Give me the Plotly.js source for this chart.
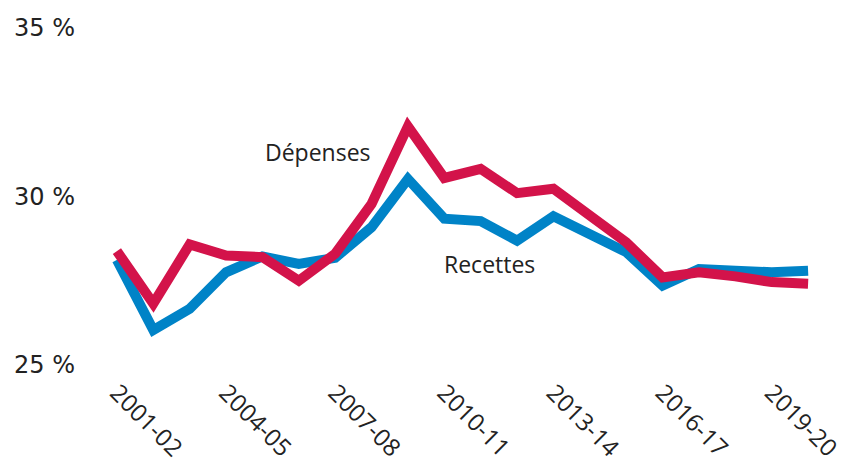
<!DOCTYPE html>
<html>
<head>
<meta charset="utf-8">
<script src="https://cdn.plot.ly/plotly-3.0.1.min.js"></script>
<style>html,body{margin:0;padding:0;background:#fff;}#chart{width:847px;height:466px;}</style>
</head>
<body>
<div id="chart"></div>
<script>
const years = ["2001-02","2002-03","2003-04","2004-05","2005-06","2006-07","2007-08","2008-09","2009-10","2010-11","2011-12","2012-13","2013-14","2014-15","2015-16","2016-17","2017-18","2018-19","2019-20","2020-21"];
const depenses = [28.38,26.82,28.58,28.25,28.2,27.5,28.3,29.78,32.08,30.55,30.82,30.1,30.23,29.39,28.64,27.6,27.75,27.63,27.46,27.41];
const recettes = [28.12,26.04,26.67,27.75,28.22,28.0,28.18,29.09,30.52,29.34,29.27,28.69,29.41,28.91,28.35,27.36,27.85,27.8,27.75,27.8];
const xTicks = ["2001-02","2004-05","2007-08","2010-11","2013-14","2016-17","2019-20"];
const yTicks = [25,30,35];
const yTickText = ["25 %","30 %","35 %"];

const traces = [
  {x: years, y: recettes, type: "scatter", mode: "lines", name: "Recettes",
   line: {color: "#0083C7", width: 10, shape: "linear"}},
  {x: years, y: depenses, type: "scatter", mode: "lines", name: "Dépenses",
   line: {color: "#D3134A", width: 10, shape: "linear"}}
];

const layout = {
  width: 847, height: 466,
  margin: {l: 106, r: 28, t: 28, b: 101},
  paper_bgcolor: "#fff", plot_bgcolor: "#fff",
  showlegend: false,
  font: {family: "Open Sans, sans-serif", color: "#222"},
  xaxis: {
    type: "category", range: [-0.3, 19.3],
    tickvals: xTicks, ticktext: xTicks, tickangle: 45,
    showgrid: false, zeroline: false, showline: false, ticks: "",
    ticklabelstandoff: 8,
    tickfont: {family: "Open Sans, sans-serif", size: 24, color: "#222"}
  },
  yaxis: {
    range: [25, 35], tickvals: yTicks, ticktext: yTickText,
    showgrid: false, zeroline: false, showline: false, ticks: "",
    ticklabelstandoff: 30,
    tickfont: {family: "DejaVu Sans, sans-serif", size: 24, color: "#222"}
  },
  annotations: [
    {x: 5.52, y: 31.31, xref: "x", yref: "y", text: "Dépenses", showarrow: false,
     font: {family: "Open Sans, sans-serif", size: 23, color: "#222"}},
    {x: 10.25, y: 28.01, xref: "x", yref: "y", text: "Recettes", showarrow: false,
     font: {family: "Open Sans, sans-serif", size: 23, color: "#222"}}
  ]
};

Plotly.newPlot("chart", traces, layout, {displayModeBar: false, staticPlot: true});
</script>
</body>
</html>
